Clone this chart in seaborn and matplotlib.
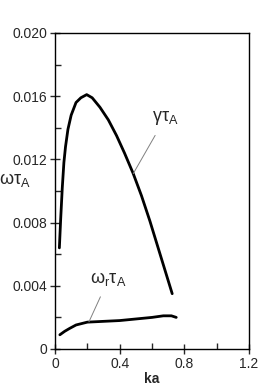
import matplotlib
matplotlib.use("Agg")
import matplotlib.pyplot as plt
import seaborn as sns
import pandas as pd
from matplotlib.ticker import MultipleLocator

gamma_ka = [0.027, 0.035, 0.045, 0.055, 0.065, 0.08, 0.10, 0.13, 0.16, 0.196, 0.23, 0.278, 0.33, 0.381, 0.43, 0.484, 0.535, 0.587, 0.65, 0.725]
gamma_val = [0.0064, 0.0082, 0.0102, 0.0118, 0.0128, 0.0139, 0.0148, 0.0156, 0.0159, 0.0161, 0.0159, 0.0153, 0.0145, 0.0135, 0.0124, 0.0111, 0.0097, 0.0081, 0.0060, 0.0035]

omr_ka = [0.03, 0.06, 0.09, 0.13, 0.2, 0.3, 0.4, 0.5, 0.6, 0.67, 0.72, 0.75]
omr_val = [0.0009, 0.00112, 0.0013, 0.00152, 0.0017, 0.00175, 0.0018, 0.0019, 0.0020, 0.0021, 0.0021, 0.0020]

x_ticks = [0, 0.4, 0.8, 1.2]
x_ticklabels = ["0", "0.4", "0.8", "1.2"]
y_ticks = [0, 0.004, 0.008, 0.012, 0.016, 0.020]
y_ticklabels = ["0", "0.004", "0.008", "0.012", "0.016", "0.020"]

sns.set_style("white")
plt.rcParams['font.family'] = ['Liberation Sans', 'DejaVu Sans']
plt.rcParams['mathtext.fontset'] = 'dejavusans'
plt.rcParams['mathtext.default'] = 'regular'

fig = plt.figure(figsize=(2.68, 3.87), dpi=100)
ax = fig.add_axes([55/268, 1 - 349/387, (249-55)/268, (349-33)/387])

df_g = pd.DataFrame({"ka": gamma_ka, "v": gamma_val})
df_o = pd.DataFrame({"ka": omr_ka, "v": omr_val})
sns.lineplot(data=df_g, x="ka", y="v", ax=ax, color="black", lw=2.0, sort=False)
sns.lineplot(data=df_o, x="ka", y="v", ax=ax, color="black", lw=2.0, sort=False)

ax.set_xlim(0, 1.2)
ax.set_ylim(0, 0.020)
ax.set_xticks(x_ticks)
ax.set_xticklabels(x_ticklabels)
ax.set_yticks(y_ticks)
ax.set_yticklabels(y_ticklabels)
ax.xaxis.set_minor_locator(MultipleLocator(0.2))
ax.yaxis.set_minor_locator(MultipleLocator(0.002))
ax.tick_params(which='major', direction='inout', length=7, width=1, labelsize=10, pad=2)
ax.tick_params(which='minor', direction='in', length=4, width=1)
ax.tick_params(axis='x', which='both', bottom=True)
ax.tick_params(axis='y', which='both', left=True)
for s in ax.spines.values():
    s.set_color('black')
    s.set_linewidth(1.0)

ax.set_xlabel("ka", fontsize=10, fontweight='bold', labelpad=1)
ax.set_ylabel("")
fig.text(15/268, 1 - 180/387, r'$\omega\tau_A$', fontsize=13, ha='center', va='center')

ax.annotate(r'$\gamma\tau_A$', xy=(0.484, 0.0111), xytext=(0.68, 0.0146),
            fontsize=13, ha='center', va='center',
            arrowprops=dict(arrowstyle='-', color='gray', lw=0.7,
                            shrinkA=4, shrinkB=0))
ax.annotate(r'$\omega_r\tau_A$', xy=(0.21, 0.00172), xytext=(0.33, 0.0044),
            fontsize=13, ha='center', va='center',
            arrowprops=dict(arrowstyle='-', color='gray', lw=0.7,
                            shrinkA=4, shrinkB=0))

fig.savefig("out.png", dpi=100)
